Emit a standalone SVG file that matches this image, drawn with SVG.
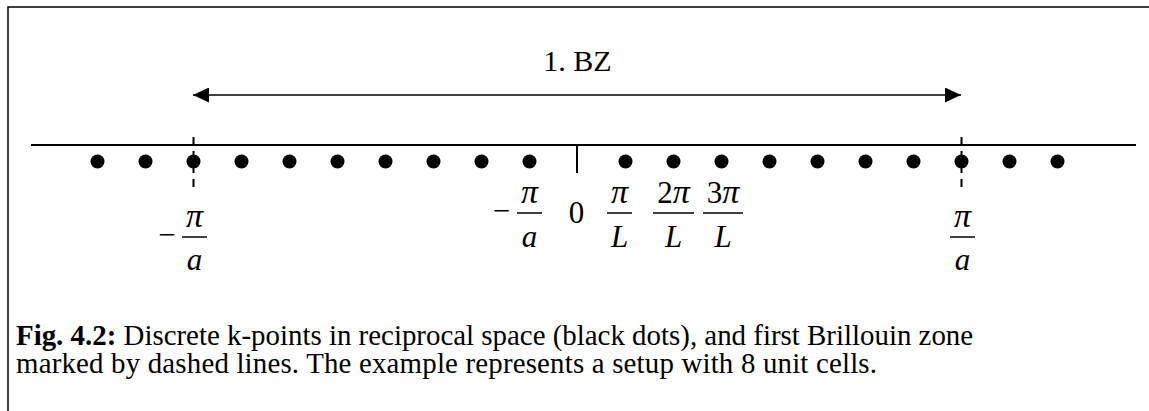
<svg xmlns="http://www.w3.org/2000/svg" width="1149" height="411" viewBox="0 0 1149 411">
<style>
.ln{stroke:#000;stroke-width:2;fill:none}
.thin{stroke:#000;stroke-width:1.5;fill:none}
.dash{stroke:#000;stroke-width:2;stroke-dasharray:8 6;fill:none}
.dot{fill:#000}
.m{font-family:"Liberation Serif","Times New Roman",serif;font-size:31px;fill:#000}
.i{font-style:italic}
.p{font-size:34px}
.lbl{font-family:"Liberation Serif","Times New Roman",serif;font-size:30px;fill:#000}
.cap{font-family:"Liberation Serif","Times New Roman",serif;font-size:28.9px;fill:#000}
</style>
<defs>
<marker id="ah" viewBox="0 0 16 15" refX="16" refY="7.5" markerWidth="16" markerHeight="15" markerUnits="userSpaceOnUse" orient="auto-start-reverse">
<path d="M0,0 L16,7.5 L0,15 Z" fill="#000"/>
</marker>
</defs>
<g id="frame">
<path class="thin" d="M8,411 V7 H1149"/>
</g>
<g id="axis">
<line class="ln" x1="31" y1="145" x2="1136" y2="145"/>
<line class="ln" x1="577" y1="145" x2="577" y2="173"/>
</g>
<g id="kpoints">
<circle class="dot" cx="97.5" cy="161.5" r="7"/>
<circle class="dot" cx="145.5" cy="161.5" r="7"/>
<circle class="dot" cx="193.5" cy="161.5" r="7"/>
<circle class="dot" cx="241.5" cy="161.5" r="7"/>
<circle class="dot" cx="289.5" cy="161.5" r="7"/>
<circle class="dot" cx="337.5" cy="161.5" r="7"/>
<circle class="dot" cx="385.5" cy="161.5" r="7"/>
<circle class="dot" cx="433.5" cy="161.5" r="7"/>
<circle class="dot" cx="481.5" cy="161.5" r="7"/>
<circle class="dot" cx="529.5" cy="161.5" r="7"/>
<circle class="dot" cx="625.5" cy="161.5" r="7"/>
<circle class="dot" cx="673.5" cy="161.5" r="7"/>
<circle class="dot" cx="721.5" cy="161.5" r="7"/>
<circle class="dot" cx="769.5" cy="161.5" r="7"/>
<circle class="dot" cx="817.5" cy="161.5" r="7"/>
<circle class="dot" cx="865.5" cy="161.5" r="7"/>
<circle class="dot" cx="913.5" cy="161.5" r="7"/>
<circle class="dot" cx="961.5" cy="161.5" r="7"/>
<circle class="dot" cx="1009.5" cy="161.5" r="7"/>
<circle class="dot" cx="1057.5" cy="161.5" r="7"/>
</g>
<g id="connectors">
<line class="dash" x1="193.5" y1="137" x2="193.5" y2="187"/>
<line class="dash" x1="961.5" y1="137" x2="961.5" y2="187"/>
<line class="thin" x1="193" y1="95" x2="961" y2="95" marker-start="url(#ah)" marker-end="url(#ah)"/>
</g>
<g id="bz-label">
<text class="lbl" x="577.5" y="71" text-anchor="middle">1. BZ</text>
</g>
<g id="label-left">
<text class="m" x="167" y="245" text-anchor="middle">−</text>
<text class="m i p" x="194.5" y="227" text-anchor="middle">π</text>
<line class="thin" x1="182" y1="237" x2="207" y2="237"/>
<text class="m i" x="194.5" y="270" text-anchor="middle">a</text>
</g>
<g id="label-mid-neg">
<text class="m" x="501.5" y="221" text-anchor="middle">−</text>
<text class="m i p" x="529.5" y="203" text-anchor="middle">π</text>
<line class="thin" x1="517" y1="213" x2="542" y2="213"/>
<text class="m i" x="529.5" y="247" text-anchor="middle">a</text>
</g>
<g id="label-zero">
<text class="m" x="576.5" y="223" text-anchor="middle">0</text>
</g>
<g id="label-1">
<text class="m i p" x="619.5" y="203" text-anchor="middle">π</text>
<line class="thin" x1="607" y1="213" x2="632" y2="213"/>
<text class="m i" x="619.5" y="247" text-anchor="middle">L</text>
</g>
<g id="label-2">
<text class="m" x="673.5" y="203" text-anchor="middle">2<tspan class="i p">π</tspan></text>
<line class="thin" x1="653" y1="213" x2="694" y2="213"/>
<text class="m i" x="673.5" y="247" text-anchor="middle">L</text>
</g>
<g id="label-3">
<text class="m" x="723" y="203" text-anchor="middle">3<tspan class="i p">π</tspan></text>
<line class="thin" x1="703" y1="213" x2="743" y2="213"/>
<text class="m i" x="723" y="247" text-anchor="middle">L</text>
</g>
<g id="label-right">
<text class="m i p" x="962.5" y="227" text-anchor="middle">π</text>
<line class="thin" x1="950" y1="237" x2="975" y2="237"/>
<text class="m i" x="962.5" y="270" text-anchor="middle">a</text>
</g>
<g id="caption">
<text class="cap" x="16" y="345"><tspan font-weight="bold">Fig. 4.2:</tspan> Discrete k-points in reciprocal space (black dots), and first Brillouin zone</text>
<text class="cap" x="16" y="373" textLength="861" lengthAdjust="spacing">marked by dashed lines. The example represents a setup with 8 unit cells.</text>
</g>
</svg>
